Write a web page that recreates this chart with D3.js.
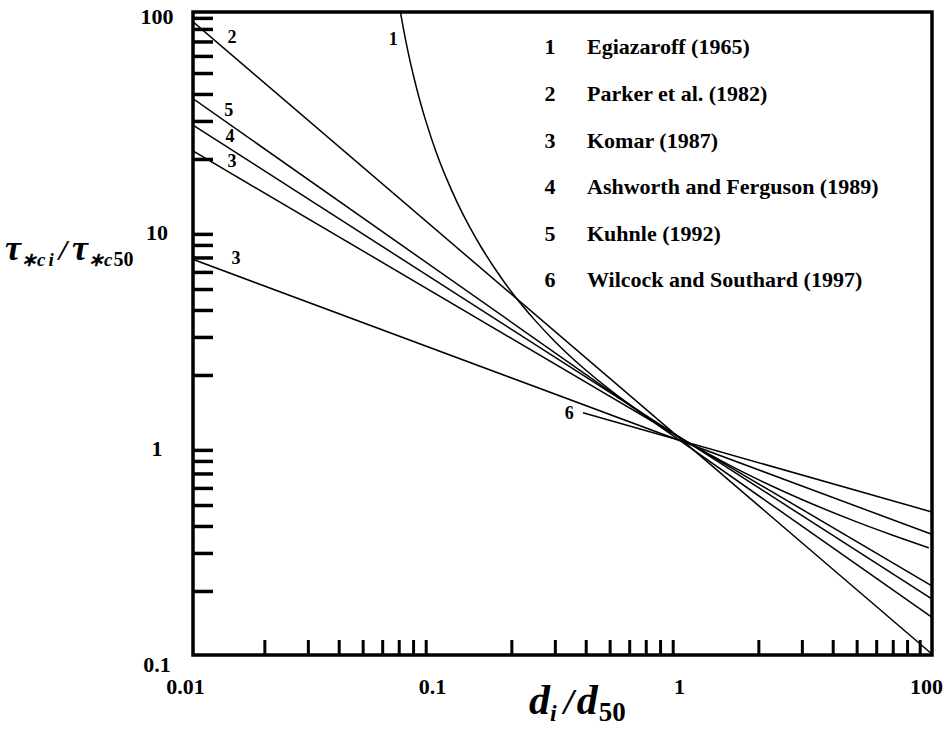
<!DOCTYPE html>
<html><head><meta charset="utf-8">
<script src="https://cdn.jsdelivr.net/npm/d3@7"></script>
<style>
html,body{margin:0;padding:0;background:#fff;}
svg{display:block;font-family:"Liberation Serif","Times New Roman",serif;}
</style></head><body>
<svg id="chart" width="944" height="730"></svg>
<script>
// ---- tick values / labels ----
const xTickValues = [0.01, 0.1, 1, 10];
const xTickLabels = ["0.01", "0.1", "1", "100"];
const yTickValues = [0.1, 1, 10, 100];
const yTickLabels = ["0.1", "1", "10", "100"];
const minorMultipliers = [2, 3, 4, 5, 6, 7, 8, 9];

// ---- legend ----
const legendNumbers = ["1", "2", "3", "4", "5", "6"];
const legendNames = ["Egiazaroff (1965)", "Parker et al. (1982)", "Komar (1987)",
  "Ashworth and Ferguson (1989)", "Kuhnle (1992)", "Wilcock and Southard (1997)"];

// ---- series ----
const egiazaroffX = [0.0712, 0.073, 0.075, 0.078, 0.08, 0.085, 0.09, 0.1, 0.11, 0.12, 0.135, 0.15, 0.175, 0.2, 0.25, 0.3, 0.4, 0.5, 0.7, 1, 1.5, 2, 3, 5, 7, 9.8];
const egiazaroffY = [95, 81.0, 69.1, 56.0, 49.5, 37.7, 30.1, 21.0, 15.96, 12.77, 9.77, 7.91, 6.01, 4.86, 3.57, 2.86, 2.108, 1.711, 1.295, 1.0, 0.773, 0.655, 0.530, 0.418, 0.3625, 0.317];
const parkerX = [0.01, 10];
const parkerY = [88.7, 0.103];
const komarAX = [0.01, 10];
const komarAY = [22.2, 0.2125];
const komarBX = [0.01, 10];
const komarBY = [6.94, 0.367];
const ashworthX = [0.01, 10];
const ashworthY = [29.3, 0.185];
const kuhnleX = [0.01, 10];
const kuhnleY = [38.9, 0.152];
const wilcockX = [0.39, 10];
const wilcockY = [1.338, 0.4656];

// ---- curve number labels (data coordinates) ----
const curveLabelText = ["1", "2", "3", "3", "4", "5", "6"];
const curveLabelX = [0.0665, 0.01479, 0.01479, 0.01536, 0.01452, 0.01434, 0.343];
const curveLabelY = [72.4, 73.6, 19.6, 6.98, 25.6, 33.7, 1.338];

// ================= drawing =================
const svg = d3.select("#chart");
const frame = {left: 193, right: 932, top: 12, bottom: 655};

const x = d3.scaleLog().domain([0.01, 10]).range([190, 931]);
const y = d3.scaleLog().domain([0.1, 100]).range([656, 8]);

svg.append("defs").append("clipPath").attr("id", "plotClip")
  .append("rect").attr("x", frame.left).attr("y", frame.top)
  .attr("width", frame.right - frame.left).attr("height", frame.bottom - frame.top);

function minorTicks(domain) {
  const out = [];
  for (let p = Math.log10(domain[0]); p < Math.log10(domain[1]) - 1e-9; p++) {
    minorMultipliers.forEach(m => out.push(m * Math.pow(10, p)));
  }
  return out;
}

// minor ticks (inward)
const yMinorAxis = d3.axisLeft(y).tickValues(minorTicks(y.domain())).tickSize(-20).tickFormat("");
const gyMinor = svg.append("g").attr("transform", `translate(${frame.left},0)`).call(yMinorAxis);
gyMinor.select(".domain").remove();
gyMinor.selectAll("line").attr("stroke", "#000").attr("stroke-width", 3.5);

const xMinorAxis = d3.axisBottom(x).tickValues(minorTicks(x.domain())).tickSize(-15).tickFormat("");
const gxMinor = svg.append("g").attr("transform", `translate(0,${frame.bottom})`).call(xMinorAxis);
gxMinor.select(".domain").remove();
gxMinor.selectAll("line").attr("stroke", "#000").attr("stroke-width", 3);

// tick labels
const yLabelAxis = d3.axisLeft(y).tickValues(yTickValues).tickSize(0).tickFormat((d, i) => yTickLabels[i]);
const gyLab = svg.append("g").attr("transform", `translate(${frame.left},0)`).call(yLabelAxis);
gyLab.select(".domain").remove();
gyLab.attr("font-family", null).attr("font-size", null);
gyLab.selectAll("text").attr("x", -36).attr("y", 8).attr("dy", "0.35em")
  .attr("text-anchor", "middle").attr("font-size", 22).attr("font-weight", "bold")
  .attr("fill", "#000");

const xLabelAxis = d3.axisBottom(x).tickValues(xTickValues).tickSize(0).tickFormat((d, i) => xTickLabels[i]);
const gxLab = svg.append("g").attr("transform", `translate(0,${frame.bottom})`).call(xLabelAxis);
gxLab.select(".domain").remove();
gxLab.attr("font-family", null).attr("font-size", null);
gxLab.selectAll("text").attr("x", -5).attr("y", 31).attr("dy", "0.35em")
  .attr("text-anchor", "middle").attr("font-size", 22).attr("font-weight", "bold")
  .attr("fill", "#000");

// frame
svg.append("rect").attr("x", frame.left).attr("y", frame.top)
  .attr("width", frame.right - frame.left).attr("height", frame.bottom - frame.top)
  .attr("fill", "none").attr("stroke", "#000").attr("stroke-width", 3.5);

// series
const seriesData = [
  {xs: egiazaroffX, ys: egiazaroffY, curve: d3.curveMonotoneX},
  {xs: parkerX, ys: parkerY, curve: d3.curveLinear},
  {xs: komarAX, ys: komarAY, curve: d3.curveLinear},
  {xs: komarBX, ys: komarBY, curve: d3.curveLinear},
  {xs: ashworthX, ys: ashworthY, curve: d3.curveLinear},
  {xs: kuhnleX, ys: kuhnleY, curve: d3.curveLinear},
  {xs: wilcockX, ys: wilcockY, curve: d3.curveLinear}
];
const gLines = svg.append("g").attr("clip-path", "url(#plotClip)");
seriesData.forEach(s => {
  const pts = s.xs.map((v, i) => [v, s.ys[i]]);
  const line = d3.line().x(d => x(d[0])).y(d => y(d[1])).curve(s.curve);
  gLines.append("path").attr("d", line(pts)).attr("fill", "none")
    .attr("stroke", "#000").attr("stroke-width", 1.5);
});

// curve number labels
svg.append("g").selectAll("text").data(curveLabelText).join("text")
  .attr("x", (d, i) => x(curveLabelX[i])).attr("y", (d, i) => y(curveLabelY[i]))
  .attr("dy", "0.35em").attr("text-anchor", "middle")
  .attr("font-size", 18).attr("font-weight", "bold").text(d => d);

// legend
const gLeg = svg.append("g");
legendNumbers.forEach((n, i) => {
  const yy = 46.7 + i * 46.6;
  gLeg.append("text").attr("x", 550).attr("y", yy).attr("dy", "0.35em")
    .attr("text-anchor", "middle").attr("font-size", 22).attr("font-weight", "bold").text(n);
  gLeg.append("text").attr("x", 587).attr("y", yy).attr("dy", "0.35em")
    .attr("font-size", 22).attr("font-weight", "bold").text(legendNames[i]);
});

// x-axis title: d_i / d_50
const xt = svg.append("text").attr("x", 529).attr("y", 714)
  .attr("font-weight", "bold").attr("font-style", "italic");
xt.append("tspan").attr("font-size", 42).text("d");
xt.append("tspan").attr("font-size", 24).attr("dy", 7).text("i");
xt.append("tspan").attr("font-size", 36).attr("dy", -7).attr("dx", 7).text("/");
xt.append("tspan").attr("font-size", 42).attr("dx", 3).text("d");
xt.append("tspan").attr("font-size", 27).attr("dy", 7).attr("dx", 1).attr("font-style", "normal").text("50");

// y-axis title: tau*ci / tau*c50
const yt = svg.append("text").attr("x", 5).attr("y", 260)
  .attr("font-weight", "bold").attr("font-style", "italic");
yt.append("tspan").attr("font-size", 36).text("τ");
yt.append("tspan").attr("font-size", 19).attr("dy", 6).text("∗");
yt.append("tspan").attr("font-size", 19).text("c");
yt.append("tspan").attr("font-size", 19).attr("dx", 3).text("i");
yt.append("tspan").attr("font-size", 30).attr("dy", -6).attr("dx", 5).text("/");
yt.append("tspan").attr("font-size", 36).attr("dx", 5).text("τ");
yt.append("tspan").attr("font-size", 19).attr("dy", 6).text("∗");
yt.append("tspan").attr("font-size", 19).text("c");
yt.append("tspan").attr("font-size", 20).attr("font-style", "normal").attr("dx", 1).text("50");
</script>
</body></html>
